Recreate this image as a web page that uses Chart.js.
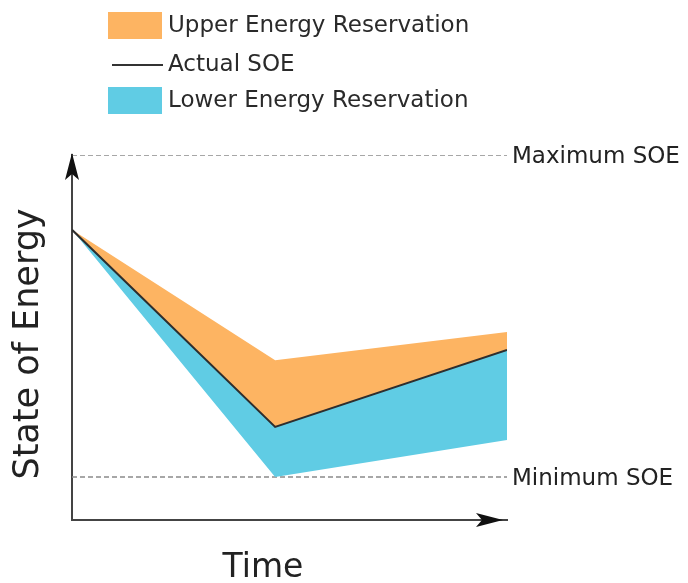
<!DOCTYPE html>
<html>
<head>
<meta charset="utf-8">
<script src="https://cdn.jsdelivr.net/npm/chart.js@4"></script>
<style>
  body { margin: 0; background: #fff; }
  #wrap { width: 688px; height: 583px; position: relative; }
</style>
</head>
<body>
<div id="wrap"><canvas id="soe"></canvas></div>
<script>
// time points (0 = start, 100 = end of horizon)
const timeX = [0, 46.7, 100]
const upperSOE = [79.5, 43.8, 51.5]
const actualSOE = [79.5, 25.5, 46.6]
const lowerSOE = [79.5, 11.8, 21.9]
const maxSOE = 100
const minSOE = 11.8
const legendLabels = ["Upper Energy Reservation", "Actual SOE", "Lower Energy Reservation"]

const orange = "rgb(253,180,98)"
const blue = "rgb(96,204,228)"
const font = "'DejaVu Sans', Verdana, sans-serif"

function pts(ys) {
  return timeX.map((x, i) => ({ x: x, y: ys[i] }))
}
function flat(v) {
  return [{ x: timeX[0], y: v }, { x: timeX[timeX.length - 1], y: v }]
}

// arrows, level labels, axis titles and the legend
const extras = {
  id: "extras",
  afterDraw(chart) {
    const ctx = chart.ctx
    const a = chart.chartArea
    const ys = chart.scales.y
    ctx.save()
    ctx.fillStyle = "#111"
    // y arrow
    ctx.beginPath()
    ctx.moveTo(a.left, a.top - 2)
    ctx.lineTo(a.left - 7, a.top + 25)
    ctx.lineTo(a.left, a.top + 19)
    ctx.lineTo(a.left + 7, a.top + 25)
    ctx.closePath()
    ctx.fill()
    // x arrow
    ctx.beginPath()
    ctx.moveTo(a.right - 4, a.bottom)
    ctx.lineTo(a.right - 31, a.bottom - 7)
    ctx.lineTo(a.right - 25, a.bottom)
    ctx.lineTo(a.right - 31, a.bottom + 7)
    ctx.closePath()
    ctx.fill()

    ctx.fillStyle = "#222"
    ctx.font = "23px " + font
    ctx.textBaseline = "middle"
    ctx.textAlign = "left"
    ctx.fillText("Maximum SOE", a.right + 5, ys.getPixelForValue(maxSOE) + 2)
    ctx.fillText("Minimum SOE", a.right + 5, ys.getPixelForValue(minSOE) + 2)

    ctx.font = "33px " + font
    ctx.textAlign = "center"
    ctx.fillText("Time", 263, 568)
    ctx.save()
    ctx.translate(29, 344)
    ctx.rotate(-Math.PI / 2)
    ctx.font = "35px " + font
    ctx.fillText("State of Energy", 0, 0)
    ctx.restore()

    // legend
    ctx.font = "23px " + font
    ctx.textAlign = "left"
    ctx.fillStyle = orange
    ctx.fillRect(108, 12, 54, 27)
    ctx.fillStyle = blue
    ctx.fillRect(108, 87, 54, 27)
    ctx.strokeStyle = "#333"
    ctx.lineWidth = 2
    ctx.beginPath()
    ctx.moveTo(112, 65)
    ctx.lineTo(163, 65)
    ctx.stroke()
    ctx.fillStyle = "#2a2a2a"
    ctx.fillText(legendLabels[0], 168, 26)
    ctx.fillText(legendLabels[1], 168, 65)
    ctx.fillText(legendLabels[2], 168, 101)
    ctx.restore()
  }
}

new Chart(document.getElementById("soe"), {
  type: "line",
  data: {
    datasets: [
      {
        label: legendLabels[0],
        data: pts(upperSOE),
        borderWidth: 0,
        backgroundColor: orange,
        fill: "+1",
        pointRadius: 0,
        tension: 0
      },
      {
        label: legendLabels[1],
        data: pts(actualSOE),
        borderColor: "#2e2e2e",
        borderWidth: 2,
        fill: false,
        pointRadius: 0,
        tension: 0,
        order: -1
      },
      {
        label: legendLabels[2],
        data: pts(lowerSOE),
        borderWidth: 0,
        backgroundColor: blue,
        fill: "-1",
        pointRadius: 0,
        tension: 0
      },
      {
        label: "Maximum SOE",
        data: flat(maxSOE),
        borderColor: "#8a8a8a",
        borderWidth: 1.5,
        borderDash: [5, 3],
        pointRadius: 0,
        fill: false
      },
      {
        label: "Minimum SOE",
        data: flat(minSOE),
        borderColor: "#8a8a8a",
        borderWidth: 1.5,
        borderDash: [5, 3],
        pointRadius: 0,
        fill: false
      }
    ]
  },
  options: {
    responsive: true,
    maintainAspectRatio: false,
    animation: false,
    layout: { padding: { left: 64, right: 181, top: 155, bottom: 55 } },
    scales: {
      x: {
        type: "linear",
        min: 0,
        max: 100,
        grid: { display: false },
        ticks: { display: false },
        border: { display: true, color: "#444", width: 2 }
      },
      y: {
        min: 0,
        max: 100,
        grid: { display: false },
        ticks: { display: false },
        border: { display: true, color: "#444", width: 2 }
      }
    },
    plugins: {
      legend: { display: false },
      tooltip: { enabled: false }
    }
  },
  plugins: [extras]
});
</script>
</body>
</html>
